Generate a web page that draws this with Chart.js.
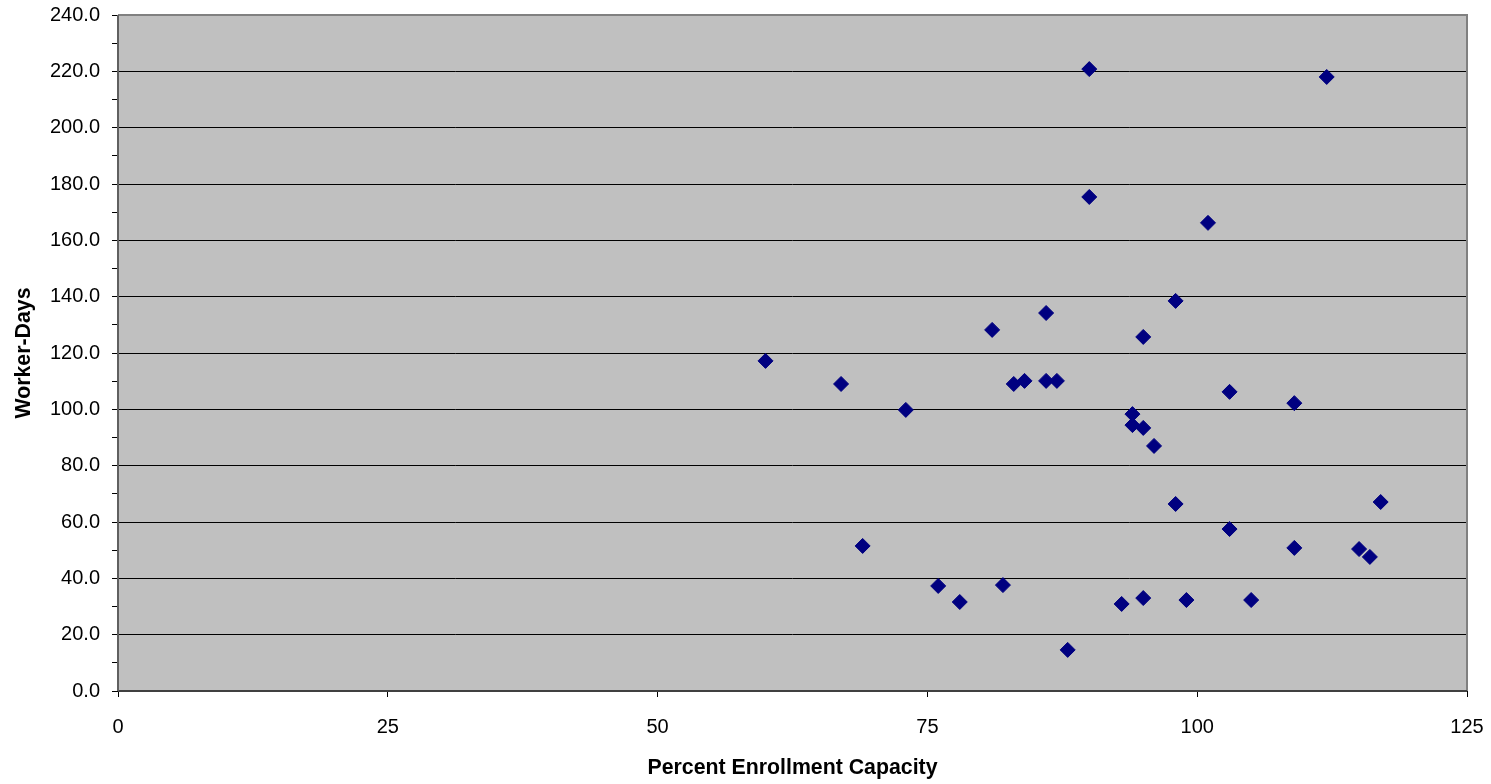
<!DOCTYPE html>
<html>
<head>
<meta charset="utf-8">
<script src="https://cdn.jsdelivr.net/npm/chart.js@4.4.0/dist/chart.umd.min.js"></script>
<style>
html,body{margin:0;padding:0;background:#fff;}
#wrap{width:1491px;height:784px;position:relative;}
</style>
</head>
<body>
<div id="wrap"><canvas id="c" width="1491" height="784"></canvas></div>
<script>
const xValues = [60, 67, 69, 73, 76, 78, 81, 82, 83, 84, 86, 86, 87, 88, 90, 90, 93, 94, 94, 95, 95, 95, 96, 98, 98, 99, 101, 103, 103, 105, 109, 109, 112, 115, 116, 117];
const yValues = [117.2, 109.0, 51.5, 99.8, 37.3, 31.6, 128.2, 37.6, 109.0, 110.1, 134.2, 110.1, 110.1, 14.6, 220.8, 175.4, 30.9, 98.3, 94.4, 93.4, 125.7, 33.0, 87.0, 138.5, 66.4, 32.3, 166.2, 106.2, 57.5, 32.3, 102.2, 50.8, 218.0, 50.4, 47.6, 67.1];
const xTicks = [0, 25, 50, 75, 100, 125];
const yTicks = [0, 20, 40, 60, 80, 100, 120, 140, 160, 180, 200, 220, 240];
const xTitle = 'Percent Enrollment Capacity';
const yTitle = 'Worker-Days';

const points = xValues.map((x, i) => ({x: x, y: yValues[i]}));

const plotBg = {
  id: 'plotBg',
  beforeDraw(chart) {
    const {ctx, chartArea: a} = chart;
    ctx.save();
    ctx.fillStyle = '#C0C0C0';
    ctx.fillRect(a.left, a.top, a.right - a.left, a.bottom - a.top);
    ctx.restore();
  },
  afterDatasetsDraw(chart) {
    const {ctx, chartArea: a} = chart;
    ctx.save();
    ctx.strokeStyle = '#808080';
    ctx.lineWidth = 2;
    ctx.beginPath();
    ctx.moveTo(a.left, a.top);
    ctx.lineTo(a.right, a.top);
    ctx.lineTo(a.right, a.bottom);
    ctx.stroke();
    ctx.strokeStyle = '#404040';
    ctx.beginPath();
    ctx.moveTo(a.left, a.bottom);
    ctx.lineTo(a.right, a.bottom);
    ctx.stroke();
    ctx.strokeStyle = '#606060';
    ctx.beginPath();
    ctx.moveTo(a.left, a.top);
    ctx.lineTo(a.left, a.bottom);
    ctx.stroke();
    ctx.restore();
  }
};

new Chart(document.getElementById('c'), {
  type: 'scatter',
  data: {
    datasets: [{
      data: points,
      pointStyle: 'rectRot',
      pointRadius: 7.5,
      pointHoverRadius: 7.5,
      backgroundColor: '#000080',
      borderColor: '#000080',
      borderWidth: 1
    }]
  },
  options: {
    responsive: false,
    animation: false,
    events: [],
    layout: {padding: {left: 0, right: 24, top: 15, bottom: 0}},
    plugins: {legend: {display: false}, tooltip: {enabled: false}},
    scales: {
      x: {
        type: 'linear',
        min: 0, max: 125,
        afterBuildTicks(scale) { scale.ticks = xTicks.map(v => ({value: v})); },
        afterFit(scale) { scale.height = 93; scale.paddingLeft = 0; scale.paddingRight = 0; },
        ticks: {
          color: '#000',
          font: {family: '"Liberation Sans", Arial, sans-serif', size: 20},
          padding: 18,
          maxRotation: 0,
          callback: v => String(v)
        },
        grid: {drawOnChartArea: false, drawTicks: true, tickLength: 6, tickColor: '#000', color: '#000'},
        border: {display: false},
        title: {
          display: true, text: xTitle, color: '#000',
          font: {family: '"Liberation Sans", Arial, sans-serif', size: 21.3, weight: 'bold'},
          padding: {top: 0, bottom: 3}
        }
      },
      y: {
        type: 'linear',
        min: 0, max: 240,
        afterBuildTicks(scale) {
          const t = [];
          for (let v = 0; v <= 240; v += 10) t.push({value: v});
          scale.ticks = t;
        },
        afterFit(scale) { scale.width = 118; scale.paddingTop = 0; scale.paddingBottom = 0; },
        ticks: {
          color: '#000',
          font: {family: '"Liberation Sans", Arial, sans-serif', size: 20},
          padding: 12,
          callback: v => (yTicks.includes(v) ? v.toFixed(1) : '')
        },
        grid: {
          drawTicks: true, tickLength: 6,
          tickColor: '#000',
          lineWidth: 1,
          color: ctx => (ctx.tick && yTicks.includes(ctx.tick.value) && ctx.tick.value !== 0 && ctx.tick.value !== 240) ? '#000' : 'rgba(0,0,0,0)'
        },
        border: {display: false},
        title: {
          display: true, text: yTitle, color: '#000',
          font: {family: '"Liberation Sans", Arial, sans-serif', size: 21.3, weight: 'bold'},
          padding: {top: 11, bottom: 0}
        }
      }
    }
  },
  plugins: [plotBg]
});
</script>
</body>
</html>
